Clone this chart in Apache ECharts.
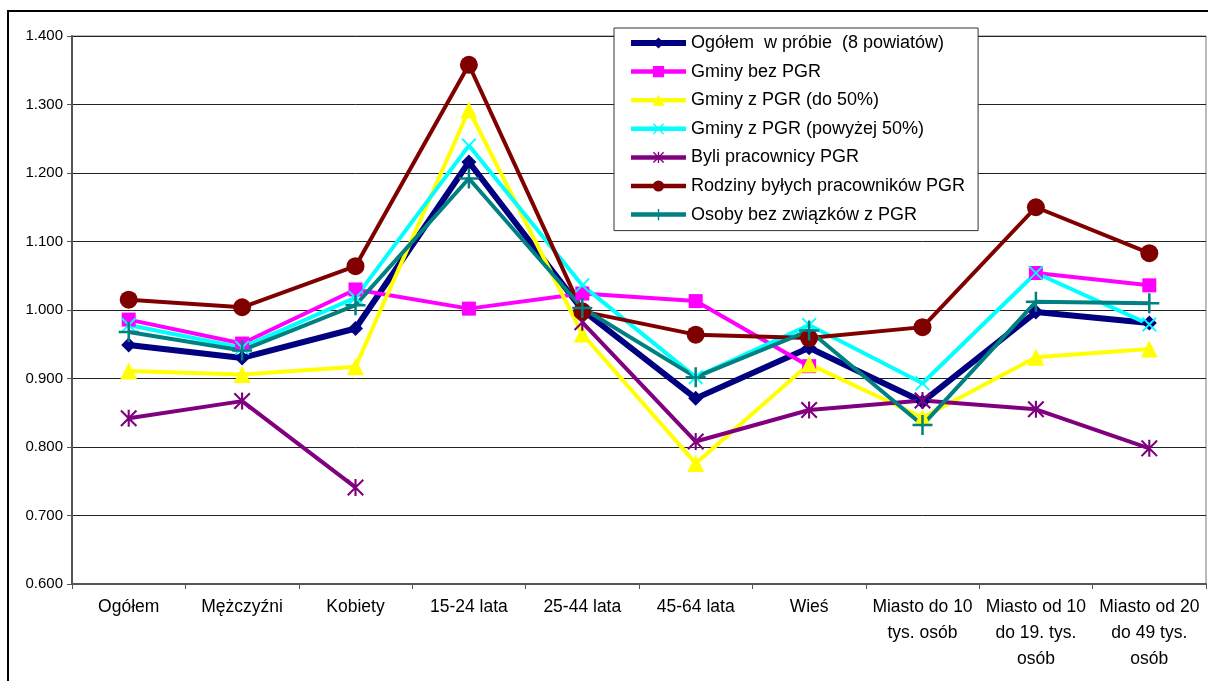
<!DOCTYPE html>
<html>
<head>
<meta charset="utf-8">
<script src="https://cdn.jsdelivr.net/npm/echarts@6/dist/echarts.min.js"></script>
<style>
html,body{margin:0;padding:0;background:#fff;}
#chart{width:1208px;height:681px;}
</style>
</head>
<body>
<div id="chart"></div>
<script>
const categories = ["Ogółem", "Mężczyźni", "Kobiety", "15-24 lata", "25-44 lata", "45-64 lata", "Wieś",
  "Miasto do 10\ntys. osób", "Miasto od 10\ndo 19. tys.\nosób", "Miasto od 20\ndo 49 tys.\nosób"];

const seriesNames = ["Ogółem  w próbie  (8 powiatów)", "Gminy bez PGR", "Gminy z PGR (do 50%)",
  "Gminy z PGR (powyżej 50%)", "Byli pracownicy PGR", "Rodziny byłych pracowników PGR", "Osoby bez związków z PGR"];

const ogolem   = [0.949, 0.930, 0.973, 1.216, 1.000, 0.871, 0.945, 0.866, 0.997, 0.981];
const bezPGR   = [0.986, 0.951, 1.030, 1.002, 1.024, 1.013, 0.918, null, 1.054, 1.036];
const do50     = [0.911, 0.906, 0.917, 1.292, 0.965, 0.776, 0.921, 0.843, 0.931, 0.943];
const pow50    = [0.978, 0.945, 1.018, 1.240, 1.036, 0.902, 0.978, 0.893, 1.054, 0.979];
const byli     = [0.842, 0.867, 0.741, null, 0.982, 0.808, 0.854, 0.868, 0.855, 0.798];
const rodziny  = [1.015, 1.004, 1.064, 1.358, 0.998, 0.964, 0.959, 0.975, 1.150, 1.083];
const osobyBez = [0.968, 0.941, 1.007, 1.192, 1.003, 0.902, 0.970, 0.832, 1.012, 1.010];

const colors = ["#000080", "#FF00FF", "#FFFF00", "#00FFFF", "#800080", "#800000", "#008080"];

const PLUS = "path://M7,0H9V7H16V9H9V16H7V9H0V7H7Z";
const XMARK = "path://M0,1.4L1.4,0L8,6.6L14.6,0L16,1.4L9.4,8L16,14.6L14.6,16L8,9.4L1.4,16L0,14.6L6.6,8Z";
const STAR = "path://M0,1.4L1.4,0L8,6.6L14.6,0L16,1.4L9.4,8L16,14.6L14.6,16L8,9.4L1.4,16L0,14.6L6.6,8ZM7,0H9V16H7Z";

const allData = [ogolem, bezPGR, do50, pow50, byli, rodziny, osobyBez];
const symbols = ["diamond", "rect", "triangle", XMARK, STAR, "circle", PLUS];
const symbolSizes = [15, 14, 17, 15, 17, 18, 20];
const widths = [6, 4, 4, 4, 4, 4, 4];

const font = "'Liberation Sans', Arial, sans-serif";

const series = allData.map((d, i) => ({
  name: seriesNames[i],
  type: "line",
  data: d,
  symbol: symbols[i],
  symbolSize: symbolSizes[i],
  connectNulls: false,
  lineStyle: { color: colors[i], width: widths[i] },
  itemStyle: { color: colors[i], borderWidth: 0 },
  emphasis: { disabled: true }
}));

const legendData = seriesNames.map((n, i) => ({
  name: n,
  lineStyle: { width: widths[i] === 6 ? 6 : 4.5, color: colors[i] }
}));

const chart = echarts.init(document.getElementById("chart"), null, { renderer: "canvas" });
chart.setOption({
  animation: false,
  backgroundColor: "#fff",
  textStyle: { fontFamily: font },
  graphic: [{
    type: "rect",
    shape: { x: 8, y: 11, width: 1400, height: 900 },
    style: { fill: null, stroke: "#000", lineWidth: 2 },
    z: 100
  }],
  grid: {
    left: 72, right: 2, top: 36, bottom: 97,
    show: true, borderColor: "#777", borderWidth: 1, backgroundColor: "#fff"
  },
  legend: {
    orient: "vertical",
    left: 614, top: 28,
    padding: [5, 13, 6, 14],
    itemWidth: 55, itemHeight: 14, itemGap: 8.6,
    backgroundColor: "#fff",
    borderColor: "#333", borderWidth: 1,
    textStyle: { fontFamily: font, fontSize: 18, color: "#000", lineHeight: 20 },
    data: legendData
  },
  xAxis: {
    type: "category",
    data: categories,
    boundaryGap: true,
    axisLine: { lineStyle: { color: "#555", width: 2 } },
    axisTick: { show: true, length: 5, lineStyle: { color: "#555", width: 1 } },
    axisLabel: { color: "#000", fontFamily: font, fontSize: 17.5, lineHeight: 26, margin: 10, interval: 0 },
    splitLine: { show: false }
  },
  yAxis: {
    type: "value",
    min: 0.6, max: 1.4, interval: 0.1,
    axisLine: { show: true, lineStyle: { color: "#555", width: 2 } },
    axisTick: { show: true, length: 5, lineStyle: { color: "#555", width: 1 } },
    axisLabel: { color: "#000", fontFamily: font, fontSize: 15, margin: 9, formatter: v => v.toFixed(3) },
    splitLine: { show: true, lineStyle: { color: "#222", width: 1 } }
  },
  series: series
});
</script>
</body>
</html>
